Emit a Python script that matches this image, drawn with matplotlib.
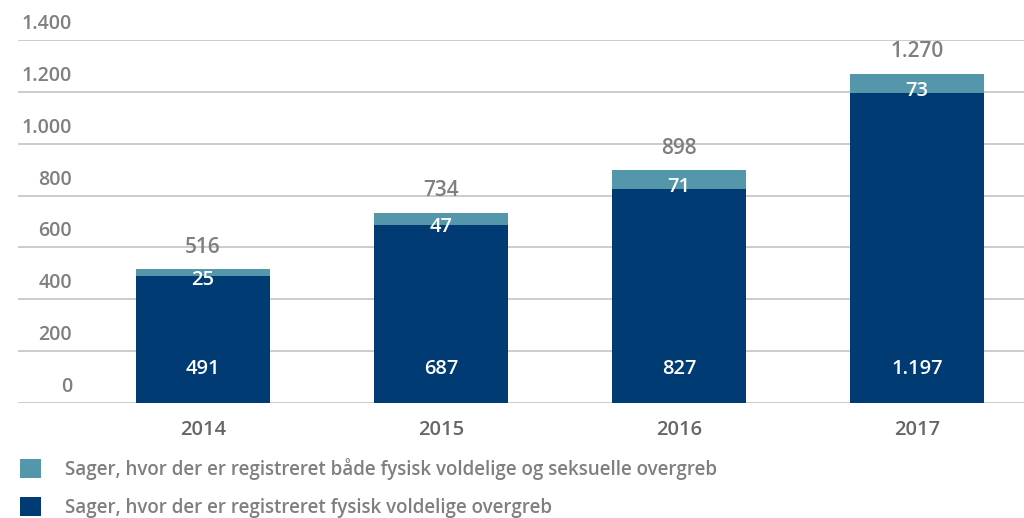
import matplotlib.pyplot as plt
import numpy as np

# Data
years = ['2014', '2015', '2016', '2017']
fysisk = [491, 687, 827, 1197]
begge = [25, 47, 71, 73]
label_fysisk = 'Sager, hvor der er registreret fysisk voldelige overgreb'
label_begge = 'Sager, hvor der er registreret både fysisk voldelige og seksuelle overgreb'
yticks = [0, 200, 400, 600, 800, 1000, 1200, 1400]


def fmt(v):
    # Danish thousands separator
    return f'{v:,}'.replace(',', '.')


plt.rcParams['font.family'] = ['Open Sans', 'DejaVu Sans']

dark = '#003b73'
light = '#5497ab'
gray = '#7f7f7f'

fig = plt.figure(figsize=(10.24, 5.18), dpi=100)
ax = fig.add_axes([18 / 1024, 115 / 518, 1006 / 1024, 363 / 518])

x = np.arange(len(years))
width = 0.56
totals = [a + b for a, b in zip(fysisk, begge)]

ax.bar(x, fysisk, width, color=dark, label=label_fysisk, zorder=2)
ax.bar(x, begge, width, bottom=fysisk, color=light, label=label_begge, zorder=2)

ax.set_xlim(-0.777, 3.45)
ax.set_ylim(0, 1400)

# gridlines with labels sitting above them
for t in yticks:
    ax.axhline(t, color='#c4c4c4', lw=1.2, zorder=1)
    ax.annotate(fmt(t), xy=(0, t), xycoords=('axes fraction', 'data'),
                xytext=(54, 6), textcoords='offset pixels',
                ha='right', va='bottom', fontsize=14, color=gray,
                fontweight='semibold')

for i in range(len(years)):
    # bottom segment label near bar base
    ax.annotate(fmt(fysisk[i]), xy=(x[i], 0), xytext=(0, 34),
                textcoords='offset pixels', ha='center', va='center',
                color='white', fontsize=14.5, fontweight='semibold', zorder=3)
    # top segment label
    ax.annotate(fmt(begge[i]), xy=(x[i], fysisk[i] + begge[i] / 2),
                xytext=(0, -8), textcoords='offset pixels',
                ha='center', va='center', color='white', fontsize=14.5,
                fontweight='semibold', zorder=3)
    # total above bar
    ax.annotate(fmt(totals[i]), xy=(x[i], totals[i]), xytext=(0, 22),
                textcoords='offset pixels', ha='center', va='center',
                color=gray, fontsize=15, fontweight='semibold', zorder=3)

ax.set_xticks(x)
ax.set_xticklabels(years, fontsize=14.5, fontweight='semibold', color='#666666')
ax.tick_params(axis='x', length=0, pad=12)
ax.set_yticks([])
for s in ax.spines.values():
    s.set_visible(False)

handles, labels = ax.get_legend_handles_labels()
fig.legend(handles[::-1], labels[::-1], loc='upper left',
           bbox_to_anchor=(20 / 1024, 1 - 458 / 518), frameon=False,
           borderaxespad=0, borderpad=0,
           handlelength=1.1, handleheight=1.2, handletextpad=1.3,
           labelspacing=0.9, labelcolor=gray,
           prop={'weight': 'semibold', 'size': 13.5})

fig.savefig('out.png', dpi=100)
